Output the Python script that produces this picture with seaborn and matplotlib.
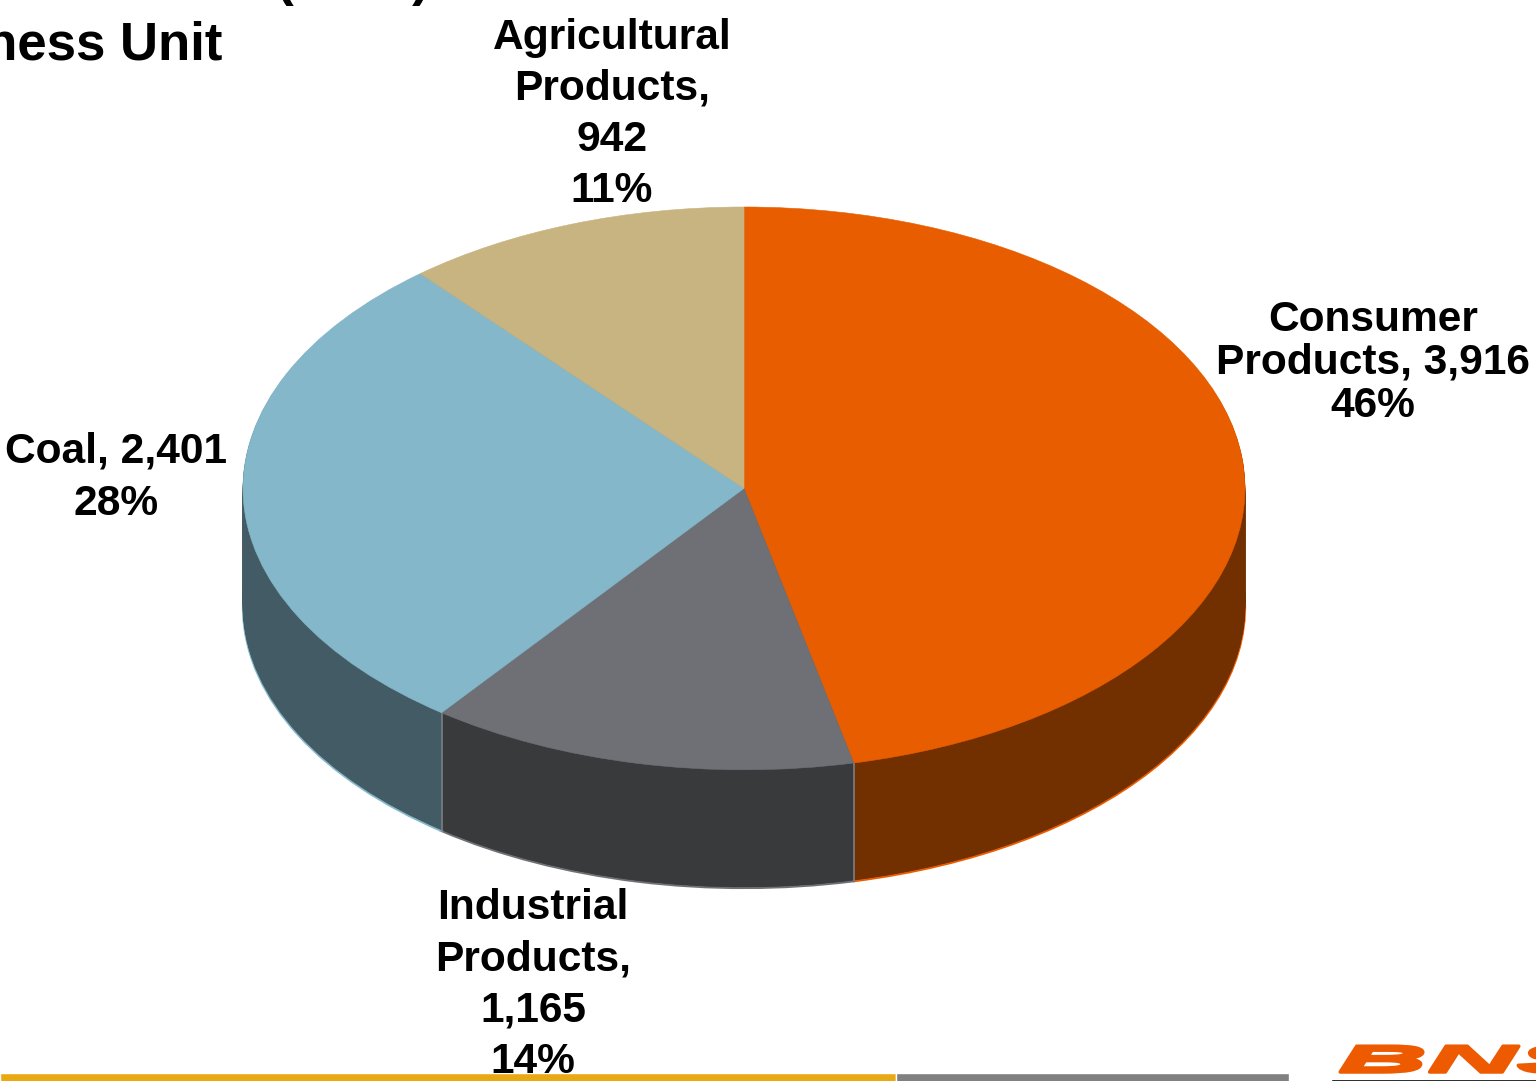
import numpy as np
import matplotlib
matplotlib.use("Agg")
import matplotlib.pyplot as plt
import matplotlib.patheffects as pe
from matplotlib.transforms import Affine2D
import seaborn as sns

# revenue by business unit, clockwise from 12 o'clock
units = ["Consumer Products", "Industrial Products", "Coal", "Agricultural Products"]
revenue = [3916, 1165, 2401, 942]
top_colors = ["#E85D00", "#6F7075", "#84B7CA", "#C8B480"]
side_colors = ["#722F00", "#393A3C", "#435B64", "#6B5F40"]

consumer_label = "Consumer\nProducts, 3,916\n46%"
industrial_label = "Industrial\nProducts,\n1,165\n14%"
coal_label = "Coal, 2,401\n28%"
agri_label = "Agricultural\nProducts,\n942\n11%"

W, H = 1536, 1081
DEPTH = 0.42  # pie thickness in units of the squashed radius


class StretchX(pe.AbstractPathEffect):
    # the logo lettering is very wide and heavy, no installed font has that shape
    def __init__(self, x0, factor, weight):
        super().__init__()
        self.x0, self.factor, self.weight = x0, factor, weight

    def draw_path(self, renderer, gc, tpath, affine, rgbFace=None):
        stretch = Affine2D().translate(-self.x0, 0).scale(self.factor, 1).translate(self.x0, 0)
        gc0 = renderer.new_gc()
        gc0.copy_properties(gc)
        gc0.set_foreground(rgbFace)
        gc0.set_linewidth(self.weight)
        renderer.draw_path(gc0, tpath, affine + stretch, rgbFace)
        gc0.restore()


sns.set_theme(style="white")
plt.rcParams["font.family"] = ["Liberation Sans", "DejaVu Sans"]

fig = plt.figure(figsize=(W / 100, H / 100), dpi=100, facecolor="white")

# pie axes: x runs 243..1245 px, y runs 207..888 px
ax = fig.add_axes([243 / W, 1 - 888 / H, 1002 / W, 681 / H])


def draw_pie(colors, offset, rim=None):
    wedges, _ = ax.pie(revenue, colors=colors, startangle=90, counterclock=False,
                       center=(0, -offset), radius=1)
    for i, w in enumerate(wedges):
        w.set_edgecolor(rim[i] if rim else w.get_facecolor())
        w.set_linewidth(1.6 if rim else 0.4)


draw_pie(side_colors, DEPTH, rim=top_colors)
for t in np.arange(DEPTH - 0.004, 0, -0.004):
    draw_pie(side_colors, t)

# seams between the front side faces
angles = np.cumsum(revenue) / np.sum(revenue) * 2 * np.pi
for a in angles[:2]:
    ax.plot([np.sin(a)] * 2, [np.cos(a), np.cos(a) - DEPTH], color="#7A7F84", lw=1.2, zorder=5)

tops, _ = ax.pie(revenue, colors=top_colors, startangle=90, counterclock=False)
for w in tops:
    w.set_zorder(6)
    w.set_edgecolor(w.get_facecolor())
    w.set_linewidth(0.4)

ax.set_aspect("auto")
ax.set_xlim(-1, 1)
ax.set_ylim(-1 - DEPTH, 1)

# overlay in pixel coordinates for the labels and slide furniture
over = fig.add_axes([0, 0, 1, 1], facecolor="none")
over.set_xlim(0, W)
over.set_ylim(H, 0)
over.axis("off")

label_kw = dict(ha="center", va="center", fontsize=30.6, fontweight="bold", color="black")
over.text(1373, 363, consumer_label, linespacing=1.108, **label_kw)
over.text(533, 985, industrial_label, linespacing=1.365, **label_kw)
over.text(116, 478, coal_label, linespacing=1.39, **label_kw)
over.text(612, 114.5, agri_label, linespacing=1.365, **label_kw)

# slide title, cut by the crop
over.text(222, 59, "Business Unit", ha="right", va="baseline", fontsize=38,
          fontweight="bold", color="black")
over.text(352.5, -5, "(2008)", ha="center", va="baseline", fontsize=38.5,
          fontweight="bold", color="black")

# footer bars
over.barh(1078, 896, height=10, left=0, color="#E9A913")
over.barh(1078, 393, height=10, left=896, color="#808080")
over.barh(1080, 210, height=3, left=1331, color="black")

# logo, cut by the right edge
logo_x = 1338
logo = over.text(logo_x, 1072, "BNSF", ha="left", va="baseline", fontsize=27,
                 fontweight="bold", fontstyle="italic", color="#EE5A00")
logo.set_path_effects([StretchX(logo_x, 3.3, 2.5)])

fig.savefig("out.png", dpi=100)
